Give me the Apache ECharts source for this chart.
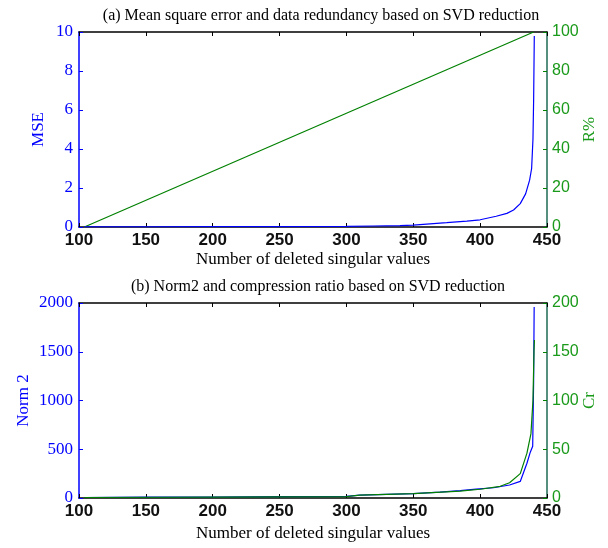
<!DOCTYPE html>
<html>
<head>
<meta charset="utf-8">
<script src="https://cdn.jsdelivr.net/npm/echarts@6/dist/echarts.min.js"></script>
<style>
    html, body { margin: 0; padding: 0; background: #fff; }
    #chart { width: 608px; height: 548px; }
</style>
</head>
<body>
<div id="chart"></div>
<script>
// (a) MSE and redundancy
const mseX = [104, 150, 200, 250, 300, 320, 340, 350, 360, 375, 390, 400, 412, 420, 425, 430, 434, 437, 438.5, 439.5, 440, 440.5]
const mse = [0.01, 0.01, 0.02, 0.02, 0.03, 0.05, 0.07, 0.1, 0.15, 0.22, 0.3, 0.37, 0.55, 0.7, 0.87, 1.2, 1.7, 2.4, 3.0, 4.5, 6.5, 9.8]
const rX = [104, 440]
const rPct = [0, 100]

// (b) Norm2 and compression ratio
const normX = [104, 150, 200, 250, 300, 310, 350, 370, 385, 397, 410, 422, 430, 435, 437.5, 439.3, 440, 440.4]
const norm2 = [5, 8, 10, 14, 16, 30, 45, 60, 75, 92, 105, 133, 170, 356, 470, 530, 1200, 1960]
const crX = [104, 200, 300, 310, 350, 385, 400, 415, 422, 430, 435, 438, 439.5, 440.3, 440.6]
const cr = [0.5, 1, 1.5, 3, 4.5, 7, 9, 12, 15.7, 25, 46, 66, 100, 152, 162]

const xTicks = { min: 100, max: 450, interval: 50 }

const BLUE = '#0000ff'
const GREEN = '#008000'
const LABEL_GREEN = '#1a9a1a'
const RIGHT_LINE = '#1f6a55'
const serif = '"Liberation Serif", "DejaVu Serif", serif'
const sans = '"Liberation Sans", Arial, sans-serif'

const pairs = (xs, ys) => xs.map((x, i) => [x, ys[i]])
const plain = (v) => String(v)

function bottomX(grid, gap) {
    return {
        type: 'value', gridIndex: grid, position: 'bottom', ...xTicks,
        name: 'Number of deleted singular values', nameLocation: 'middle', nameGap: gap,
        nameMoveOverlap: false,
        nameTextStyle: { fontFamily: serif, fontSize: 17, color: '#000' },
        axisLine: { show: true, onZero: false, lineStyle: { color: '#000', width: 1.5 } },
        axisTick: { show: true, inside: true, length: 4, lineStyle: { color: '#000' } },
        axisLabel: { fontFamily: sans, fontSize: 17, fontWeight: 'bold', color: '#111', margin: 5, formatter: plain },
        splitLine: { show: false },
    }
}

function topX(grid) {
    return {
        type: 'value', gridIndex: grid, position: 'top', ...xTicks,
        axisLine: { show: true, onZero: false, lineStyle: { color: '#000', width: 1.5 } },
        axisTick: { show: true, inside: true, length: 4, lineStyle: { color: '#000' } },
        axisLabel: { show: false },
        splitLine: { show: false },
    }
}

function leftY(grid, max, interval, name, gap) {
    return {
        type: 'value', gridIndex: grid, position: 'left', min: 0, max: max, interval: interval,
        name: name, nameLocation: 'middle', nameGap: gap, nameMoveOverlap: false,
        nameTextStyle: { fontFamily: serif, fontSize: 17, color: BLUE },
        axisLine: { show: true, onZero: false, lineStyle: { color: BLUE, width: 1.5 } },
        axisTick: { show: true, inside: true, length: 4, lineStyle: { color: BLUE } },
        axisLabel: { fontFamily: serif, fontSize: 17, color: BLUE, margin: 6, formatter: plain },
        splitLine: { show: false },
    }
}

function rightY(grid, max, interval, name, gap) {
    return {
        type: 'value', gridIndex: grid, position: 'right', min: 0, max: max, interval: interval,
        name: name, nameLocation: 'middle', nameGap: gap, nameMoveOverlap: false,
        nameTextStyle: { fontFamily: serif, fontSize: 17, color: LABEL_GREEN },
        axisLine: { show: true, onZero: false, lineStyle: { color: RIGHT_LINE, width: 1.5 } },
        axisTick: { show: true, inside: true, length: 4, lineStyle: { color: GREEN } },
        axisLabel: { fontFamily: sans, fontSize: 16, color: LABEL_GREEN, margin: 5, formatter: plain },
        splitLine: { show: false },
    }
}

function line(name, data, color, xi, yi) {
    return {
        name: name, type: 'line', xAxisIndex: xi, yAxisIndex: yi,
        data: data, showSymbol: false, symbol: 'none',
        lineStyle: { color: color, width: 1.2 },
        z: 5,
    }
}

const chart = echarts.init(document.getElementById('chart'))
chart.setOption({
    animation: false,
    title: [
        {
            text: '(a) Mean square error and data redundancy based on SVD reduction',
            left: 316, top: 3, textAlign: 'center',
            textStyle: { fontFamily: serif, fontSize: 16, fontWeight: 'normal', color: '#000' },
        },
        {
            text: '(b) Norm2 and compression ratio based on SVD reduction',
            left: 313, top: 274, textAlign: 'center',
            textStyle: { fontFamily: serif, fontSize: 16, fontWeight: 'normal', color: '#000' },
        },
    ],
    grid: [
        { left: 79, right: 61, top: 32, height: 195, outerBoundsMode: 'none' },
        { left: 79, right: 61, top: 303, height: 195, outerBoundsMode: 'none' },
    ],
    xAxis: [bottomX(0, 24), topX(0), bottomX(1, 27), topX(1)],
    yAxis: [
        leftY(0, 10, 2, 'MSE', 32),
        rightY(0, 100, 20, 'R%', 34),
        leftY(1, 2000, 500, 'Norm 2', 47),
        rightY(1, 200, 50, 'Cr', 34),
    ],
    series: [
        line('R%', pairs(rX, rPct), GREEN, 0, 1),
        line('MSE', pairs(mseX, mse), BLUE, 0, 0),
        line('Norm 2', pairs(normX, norm2), BLUE, 2, 2),
        line('Cr', pairs(crX, cr), GREEN, 2, 3),
    ],
})
</script>
</body>
</html>
